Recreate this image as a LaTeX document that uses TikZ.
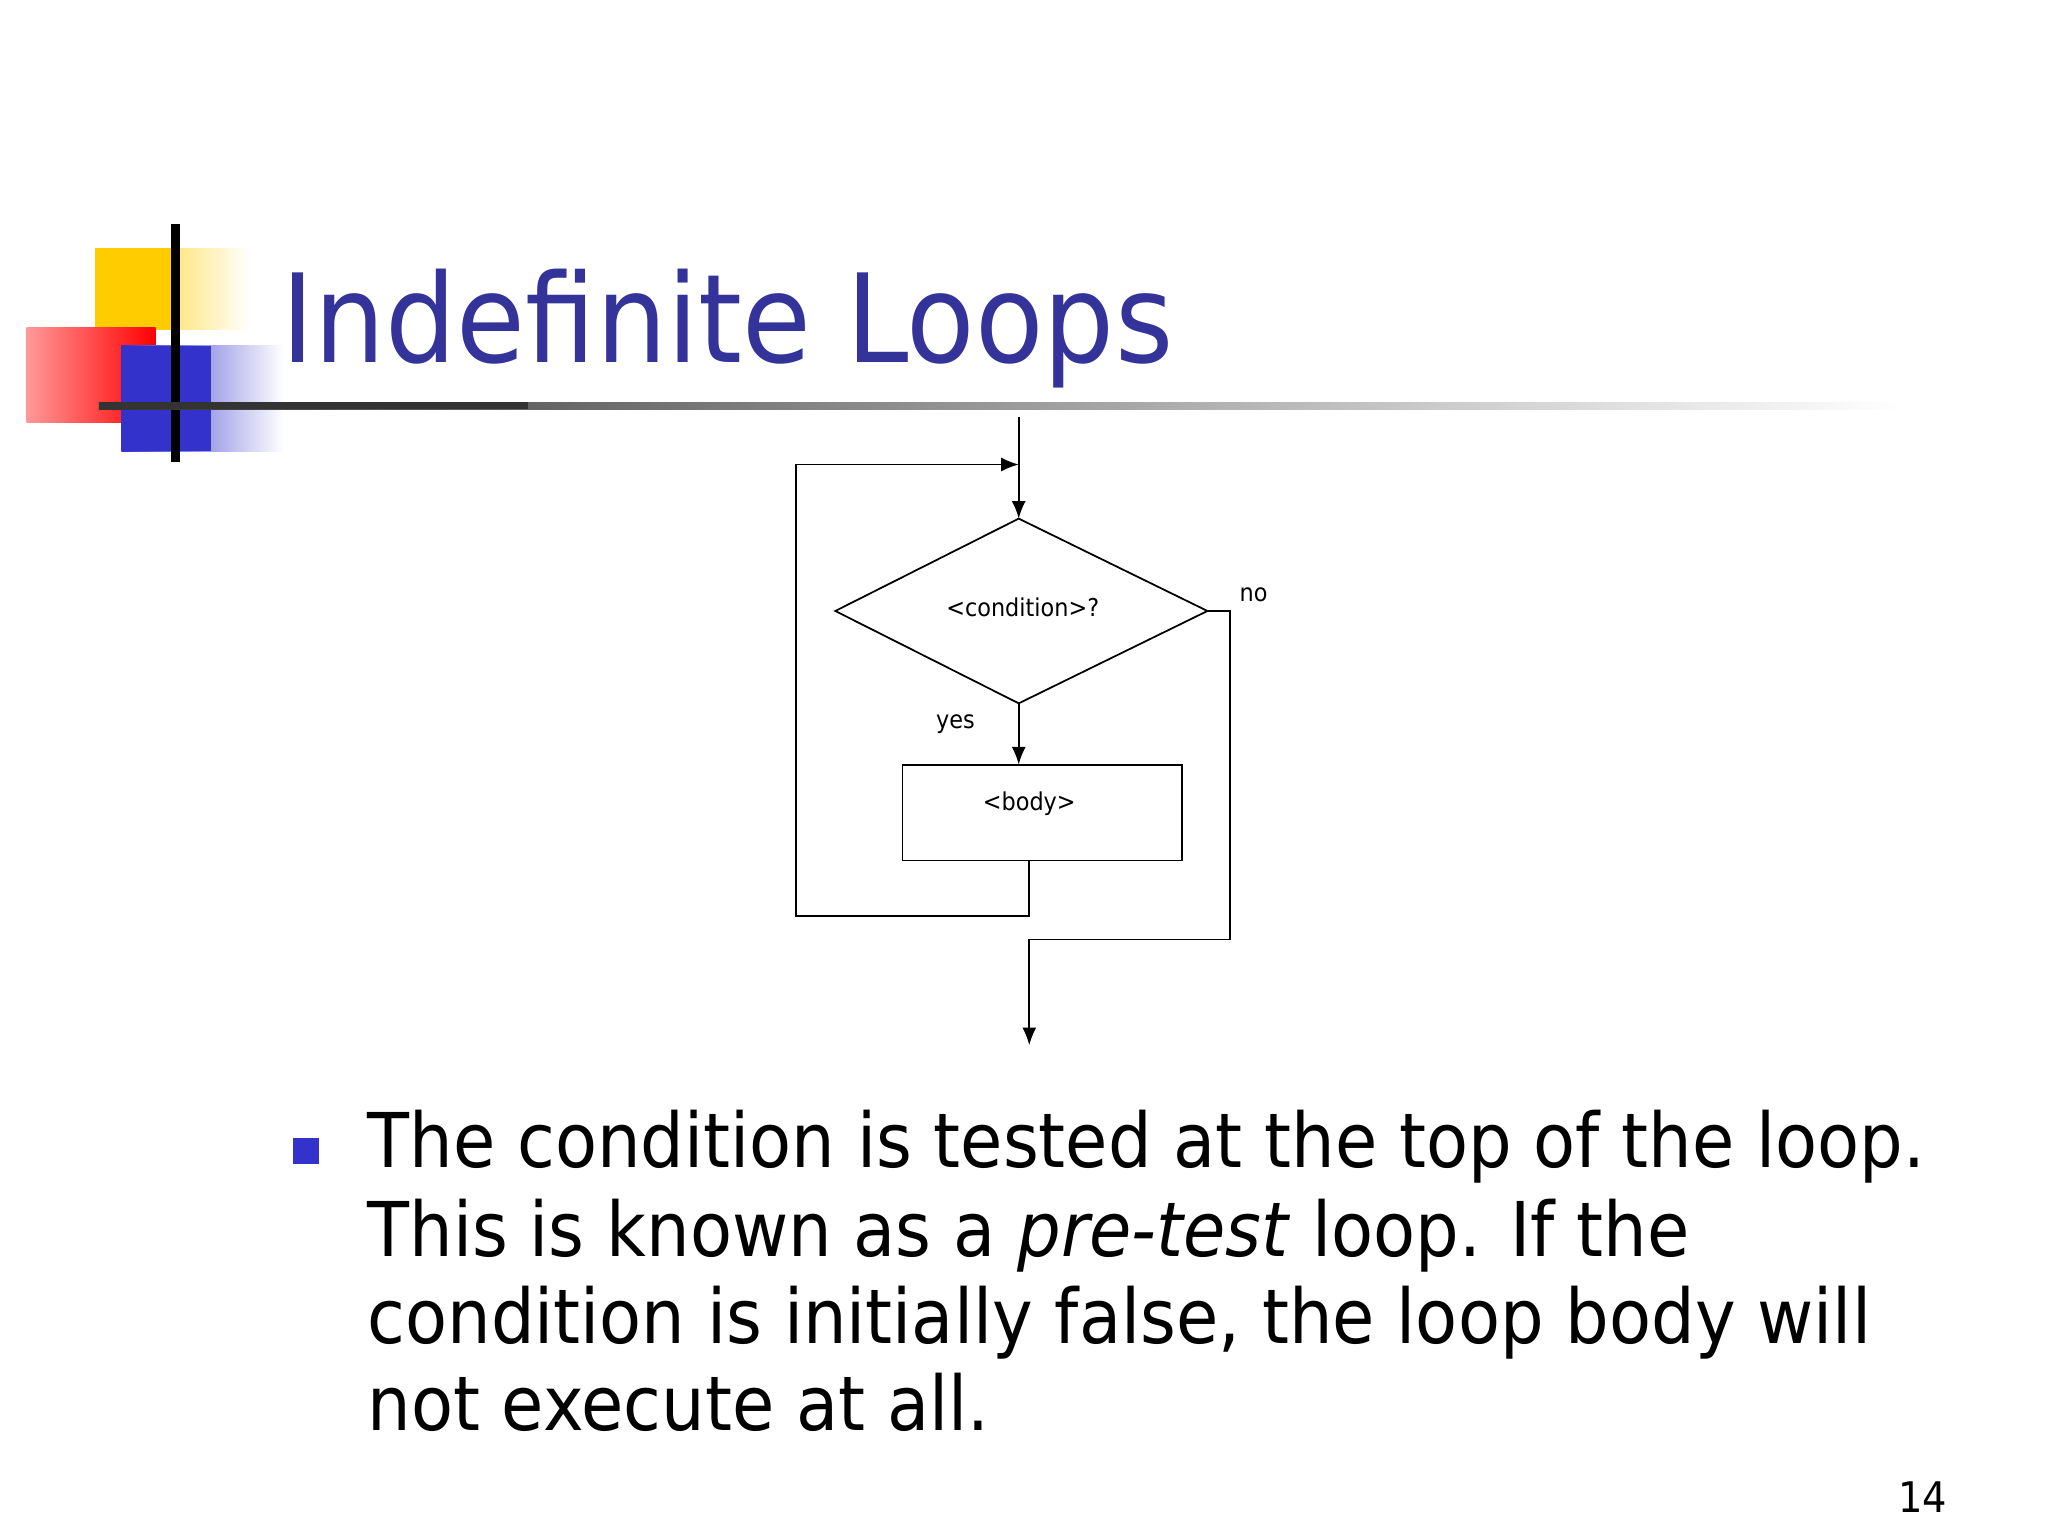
\documentclass[tikz,border=0pt]{standalone}
\usepackage{fontspec}
\setmainfont[FakeStretch=0.91]{DejaVu Sans}
\usetikzlibrary{arrows.meta}
\definecolor{ttl}{RGB}{51,51,153}
\definecolor{blu}{RGB}{51,51,204}
\definecolor{yel}{RGB}{255,204,0}
\tikzset{
  flow/.style={draw=black, line width=0.5pt},
  arr/.style={-{Latex[length=5pt,width=4pt]}, line width=0.5pt},
  small/.style={font=\fontsize{7}{8}\selectfont, inner sep=0pt},
  body/.style={anchor=base west, inner sep=0pt, font=\fontsize{21.5}{26}\selectfont}
}
\begin{document}
\begin{tikzpicture}[x=0.013196cm,y=-0.013196cm]
\useasboundingbox (0,0) rectangle (1552,1164);
\fill[white] (0,0) rectangle (1552,1164);
% logo
\shade[left color=yel, right color=white] (72,188) rectangle (190,250);
\fill[yel] (72,188) rectangle (133,250);
\shade[left color=red!40!white, right color=red] (20,248) rectangle (118,320);
\shade[left color=blu, right color=white] (92,262) rectangle (215,342);
\fill[blu] (92,262) rectangle (160,342);
\draw[line width=2.5pt] (133,170) -- (133,350);
\shade[left color=black!80, right color=white] (75,305) rectangle (1440,310);
\fill[black!80] (75,305) rectangle (400,310);
\node[anchor=base west, inner sep=0pt, text=ttl, font=\fontsize{35}{40}\selectfont] (title) at (213,275) {Indefinite Loops};
% flowchart
\coordinate (top) at (772,316);
\coordinate (dt) at (772,393);
\coordinate (dl) at (633,463);
\coordinate (dr) at (915,463);
\coordinate (db) at (772,533);
\draw[flow] (dt) -- (dr) -- (db) -- (dl) -- cycle;
\node[small] (cond) at (775,460) {<condition>?};
\node[flow, minimum width=212*0.013196cm, minimum height=72*0.013196cm, inner sep=0pt] (bodyb) at (790,616) {};
\node[small] (bt) at (780,609) {<body>};
\node[small] (no) at (950,451) {no};
\node[small] (yes) at (724,549) {yes};
\draw[arr] (top) -- (dt);
\draw[arr] (db) -- (bodyb.north -| db);
\coordinate (bb) at (780,652);
\coordinate (loopin) at (772,352);
\draw[arr] (bb) -- (780,694) -- (603,694) -- (603,352) -- (loopin);
\coordinate (out) at (780,792);
\draw[arr] (dr) -- (932,463) -- (932,712) -- (780,712) -- (out);
% bullet text
\fill[blu] (222,862) rectangle (242,882);
\node[body] (l1) at (278,885) {The condition is tested at the top of the loop.};
\node[body] (l2) at (278,952) {This is known as a \textit{pre-test} loop. If the};
\node[body] (l3) at (278,1018) {condition is initially false, the loop body will};
\node[body] (l4) at (278,1084) {not execute at all.};
\node[anchor=base, inner sep=0pt, font=\fontsize{12}{14}\selectfont] (pg) at (1457,1146) {14};
\end{tikzpicture}
\end{document}
